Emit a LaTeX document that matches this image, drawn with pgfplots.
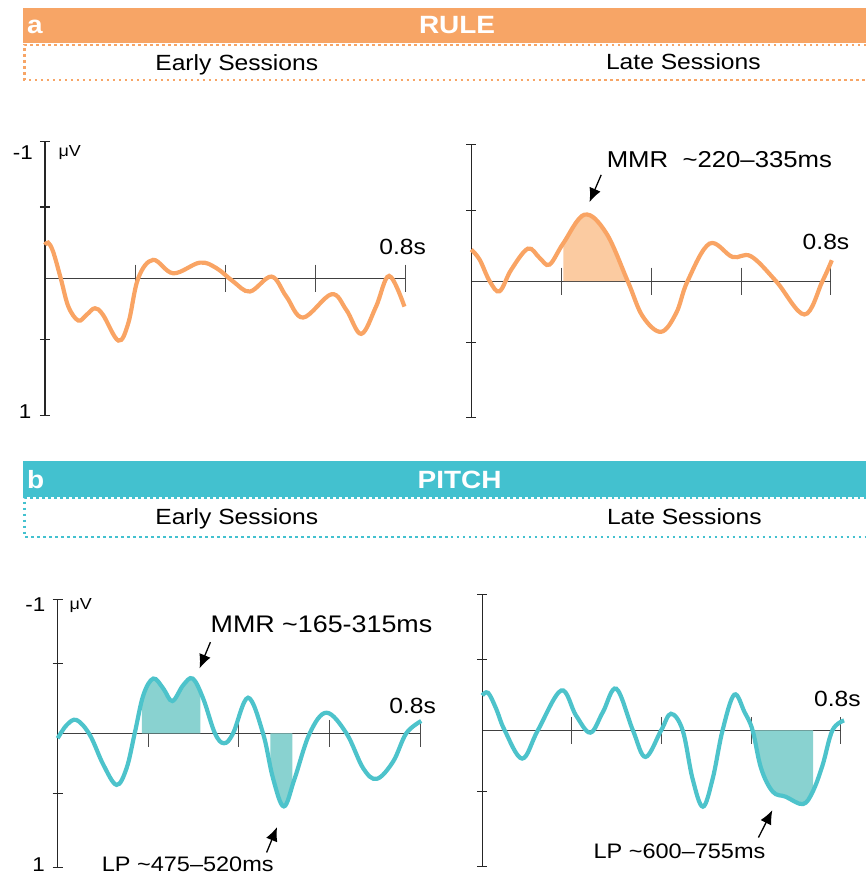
\documentclass[border=0pt]{standalone}
\usepackage{fontspec}
\setmainfont{Liberation Sans}[FakeStretch=1.12]
\usepackage{pgfplots}
\pgfplotsset{compat=1.18}
\usepgfplotslibrary{fillbetween}
\usetikzlibrary{arrows.meta}
\definecolor{rulebar}{HTML}{F7A566}
\definecolor{rulecurve}{HTML}{F9A464}
\definecolor{rulefill}{HTML}{FBCBA1}
\definecolor{pitchbar}{HTML}{43C1CF}
\definecolor{pitchcurve}{HTML}{4DC3CB}
\definecolor{pitchfill}{HTML}{89D2D0}
\newcommand\fs[1]{\fontsize{#1bp}{#1bp}\selectfont}
\tikzset{ann/.style={-{Latex[length=14bp,width=12bp]}, line width=1.3bp}}
\pgfplotsset{erp/.style={scale only axis, xmin=0, xmax=0.8, ymin=-1, ymax=1,
  y dir=reverse, axis lines=middle, enlargelimits=false, clip=false, anchor=origin,
  x axis line style={-, draw=black!75, line width=1bp},
  y axis line style={-, draw=black!85, line width=1.3bp},
  xtick={0.2,0.4,0.6,0.8}, ytick={-1,-0.52,0.45,1},
  xticklabels={}, yticklabels={}, tick align=center,
  xtick style={draw=black!70, line width=1bp, /pgfplots/major tick length=27bp},
  ytick style={draw=black!85, line width=1.2bp, /pgfplots/major tick length=10bp},
  every node/.append style={inner sep=0pt}}}
\begin{document}
\begin{tikzpicture}[x=1bp,y=1bp]
\path (0,0) rectangle (867,875);
% ---------- headers ----------
\fill[rulebar] (23,831.7) rectangle (867,866.7);
\node[anchor=base west, inner sep=0pt, text=white, font=\bfseries\fs{25}] at (27,841.7) {a};
\node[anchor=base, inner sep=0pt, text=white, font=\bfseries\fs{25}] at (457.5,841.7) {RULE};
\draw[rulebar, line width=2.5bp, dash pattern=on 2.5bp off 3.5bp] (867,830) -- (24.5,830) -- (24.5,795) -- (867,795);
\node[anchor=base, inner sep=0pt, font=\fs{22}] at (237,804.3) {Early Sessions};
\node[anchor=base, inner sep=0pt, font=\fs{22}] at (684,805) {Late Sessions};
\fill[pitchbar] (23,378) rectangle (867,414);
\node[anchor=base west, inner sep=0pt, text=white, font=\bfseries\fs{25}] at (27,386) {b};
\node[anchor=base, inner sep=0pt, text=white, font=\bfseries\fs{25}] at (460,386) {PITCH};
\draw[pitchbar, line width=2.5bp, dash pattern=on 2.5bp off 3.5bp] (867,376.3) -- (24.5,376.3) -- (24.5,337.7) -- (867,337.7);
\node[anchor=base, inner sep=0pt, font=\fs{22}] at (237,350.5) {Early Sessions};
\node[anchor=base, inner sep=0pt, font=\fs{22}] at (685,350.5) {Late Sessions};
% ---------- RULE early ----------
\begin{axis}[erp, width=360.7bp, height=274.3bp, at={(45bp,596.5bp)}]
\addplot[rulecurve, line width=4.2bp, smooth, tension=0.6] coordinates {
(0,-0.243) (0.007,-0.26) (0.018,-0.195) (0.035,0) (0.052,0.207) (0.074,0.309)
(0.092,0.268) (0.111,0.219) (0.129,0.268) (0.163,0.455) (0.185,0.328) (0.207,0)
(0.240,-0.134) (0.285,-0.036) (0.344,-0.114) (0.381,-0.073) (0.418,0.024) (0.455,0.097)
(0.503,-0.012) (0.536,0.134) (0.573,0.287) (0.636,0.117) (0.669,0.231) (0.702,0.406)
(0.735,0.207) (0.764,-0.017) (0.798,0.207)};
\node[font=\fs{20}] at (-0.049,-0.916) {-1};
\node[font=\fs{16}] at (0.055,-0.916) {μV};
\node[font=\fs{20}] at (-0.044,0.974) {1};
\node[font=\fs{22}] at (0.794,-0.23) {0.8s};
\end{axis}
% ---------- RULE late ----------
\begin{axis}[erp, width=360bp, height=273bp, at={(471.7bp,593.5bp)}]
\addplot[rulecurve, line width=4.2bp, smooth, tension=0.6, name path=c] coordinates {
(0,-0.232) (0.0185,-0.159) (0.041,0) (0.063,0.073) (0.089,-0.085) (0.126,-0.239)
(0.152,-0.171) (0.174,-0.122) (0.205,-0.28) (0.252,-0.488) (0.300,-0.354) (0.348,0)
(0.381,0.256) (0.422,0.371) (0.456,0.232) (0.481,0) (0.530,-0.276) (0.581,-0.178)
(0.622,-0.183) (0.678,0) (0.741,0.244) (0.781,0) (0.802,-0.154)};
\addplot[draw=none, name path=z] coordinates {(0,0) (0.8,0)};
\addplot[rulefill] fill between[of=c and z, soft clip={domain=0.205:0.348}];
\node[font=\fs{23}] at (0.552,-0.89) {MMR\ \ \textasciitilde220–335ms};
\draw[ann] (0.289,-0.78) -- (0.263,-0.58);
\node[font=\fs{22}] at (0.789,-0.29) {0.8s};
\end{axis}
% ---------- PITCH early ----------
\begin{axis}[erp, width=363bp, height=268bp, at={(57.7bp,141bp)}]
\addplot[pitchcurve, line width=4.2bp, smooth, tension=0.6, name path=c] coordinates {
(0,0.037) (0.020,-0.062) (0.042,-0.099) (0.071,0.012) (0.101,0.236) (0.130,0.385)
(0.152,0.261) (0.170,0) (0.189,-0.285) (0.211,-0.409) (0.233,-0.335) (0.253,-0.241)
(0.277,-0.36) (0.298,-0.409) (0.321,-0.26) (0.347,0) (0.367,0.074) (0.387,0)
(0.420,-0.266) (0.453,0) (0.475,0.335) (0.499,0.546) (0.523,0.335) (0.556,0)
(0.593,-0.154) (0.637,0) (0.674,0.261) (0.704,0.340) (0.740,0.211) (0.769,0) (0.802,-0.092)};
\addplot[draw=none, name path=z] coordinates {(0,0) (0.8,0)};
\addplot[pitchfill] fill between[of=c and z, soft clip={domain=0.186:0.315}];
\addplot[pitchfill] fill between[of=c and z, soft clip={domain=0.469:0.518}];
\node[font=\fs{20}] at (-0.049,-0.963) {-1};
\node[font=\fs{16}] at (0.051,-0.955) {μV};
\node[font=\fs{20}] at (-0.042,0.978) {1};
\node[font=\fs{22}] at (0.783,-0.204) {0.8s};
\node[font=\fs{24}] at (0.582,-0.813) {MMR \textasciitilde165-315ms};
\draw[ann] (0.337,-0.681) -- (0.313,-0.485);
\node[font=\fs{21}] at (0.287,0.978) {LP \textasciitilde475–520ms};
\draw[ann] (0.461,0.89) -- (0.484,0.70);
\end{axis}
% ---------- PITCH late ----------
\begin{axis}[erp, width=359bp, height=272bp, at={(482.7bp,144bp)}]
\addplot[pitchcurve, line width=4.2bp, smooth, tension=0.6, name path=c] coordinates {
(0,-0.257) (0.013,-0.276) (0.031,-0.159) (0.050,0) (0.089,0.208) (0.124,0)
(0.176,-0.293) (0.209,-0.11) (0.241,0.017) (0.269,-0.134) (0.299,-0.306) (0.336,0)
(0.364,0.196) (0.399,0) (0.421,-0.122) (0.447,0) (0.469,0.355) (0.492,0.562)
(0.514,0.355) (0.536,0) (0.562,-0.262) (0.585,-0.134) (0.603,0) (0.622,0.281)
(0.648,0.452) (0.677,0.489) (0.715,0.543) (0.737,0.452) (0.759,0.257) (0.781,0) (0.807,-0.073)};
\addplot[draw=none, name path=z] coordinates {(0,0) (0.8,0)};
\addplot[pitchfill] fill between[of=c and z, soft clip={domain=0.603:0.738}];
\node[font=\fs{22}] at (0.792,-0.228) {0.8s};
\node[font=\fs{21}] at (0.44,0.887) {LP \textasciitilde600–755ms};
\draw[ann] (0.616,0.789) -- (0.647,0.588);
\end{axis}
\end{tikzpicture}
\end{document}
